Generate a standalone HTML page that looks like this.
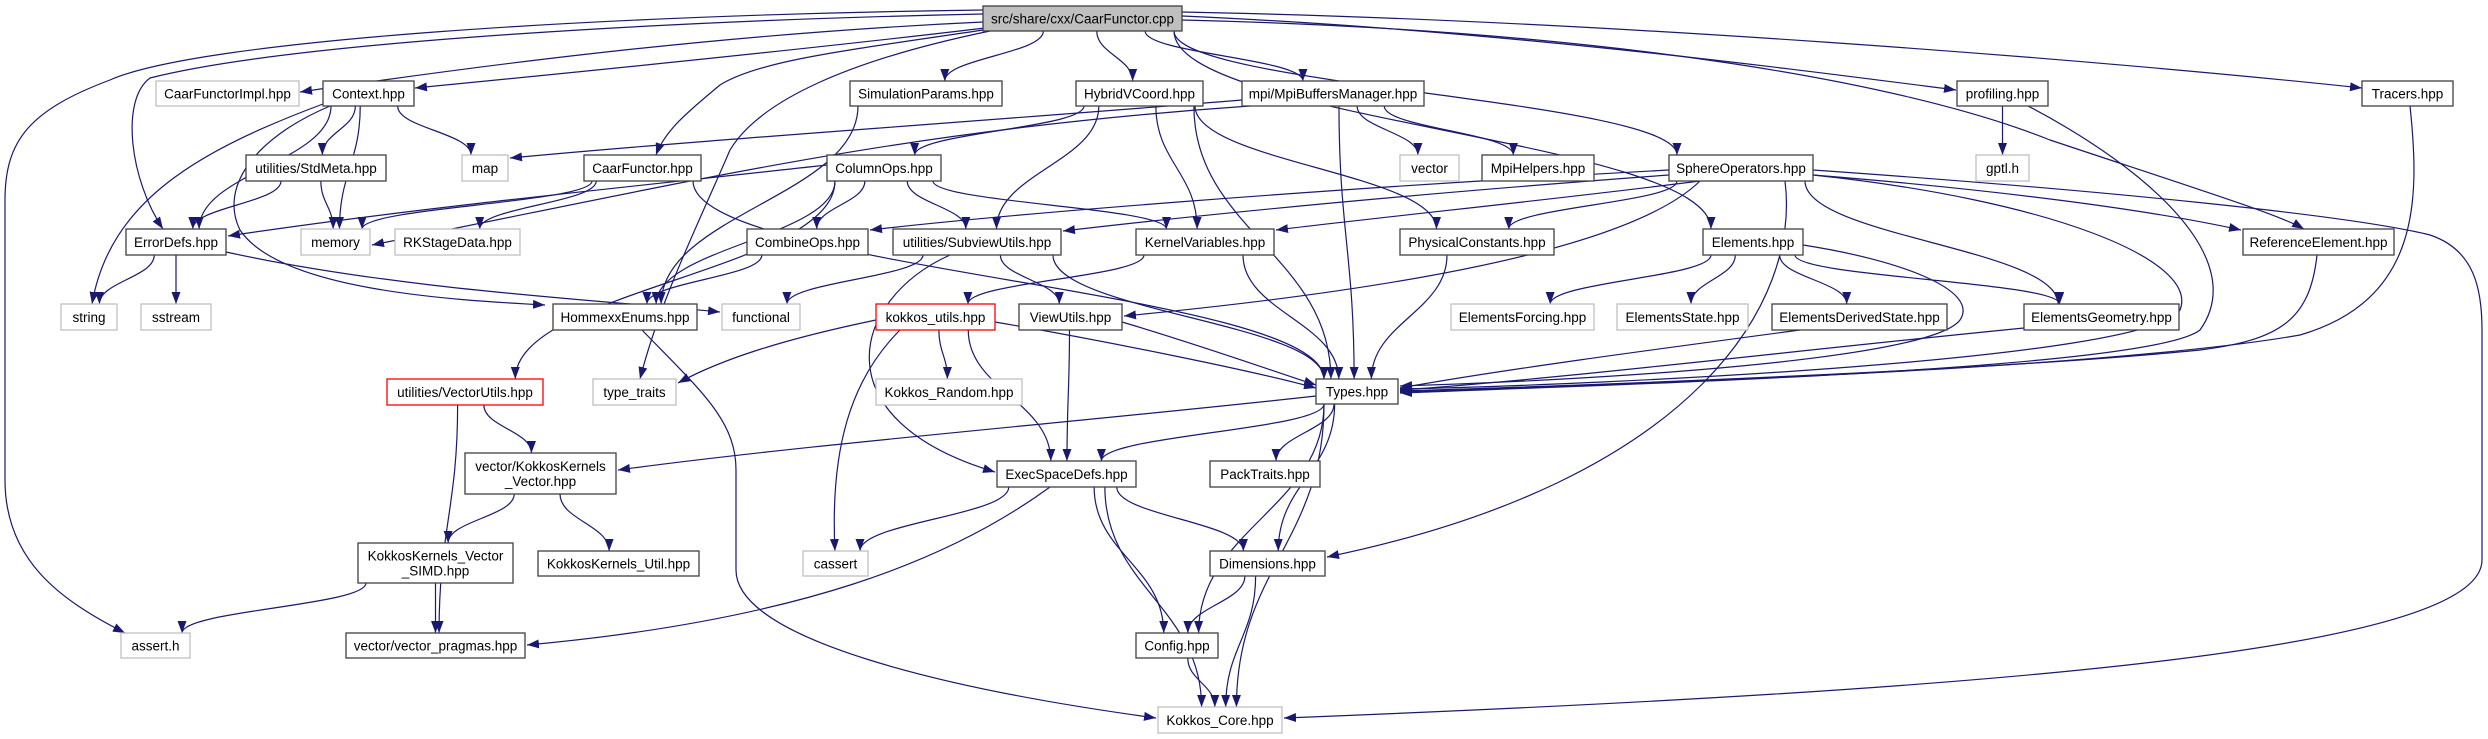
<!DOCTYPE html>
<html><head><meta charset="utf-8"><style>
html,body{margin:0;padding:0;background:#fff;width:2488px;height:739px;overflow:hidden}
svg{display:block}
text{font-family:"Liberation Sans",sans-serif;font-size:13.5px;fill:#000}
</style></head><body>
<svg id="g" width="2488" height="739" viewBox="0 0 2488 739" xmlns="http://www.w3.org/2000/svg">
<defs><marker id="a" markerUnits="userSpaceOnUse" markerWidth="12" markerHeight="9" refX="12" refY="4.5" orient="auto"><path d="M0,0L12,4.5L0,9z" fill="#191970"/></marker></defs>
<g id="edges" fill="none" stroke="#191970" stroke-width="1.2"></g>
<g id="nodes"></g>
</svg>
<script>
var N={
root:[983,6,1182,31,"src/share/cxx/CaarFunctor.cpp","k",1],
cfi:[156,81,299,106,"CaarFunctorImpl.hpp","g"],
ctx:[323,81,414,106,"Context.hpp","k"],
sim:[850,81,1002,106,"SimulationParams.hpp","k"],
hyb:[1076,81,1203,106,"HybridVCoord.hpp","k"],
mpi:[1242,81,1424,106,"mpi/MpiBuffersManager.hpp","k"],
prof:[1957,81,2048,106,"profiling.hpp","k"],
trac:[2362,81,2453,106,"Tracers.hpp","k"],
std:[246,155,386,181,"utilities/StdMeta.hpp","k"],
map:[462,155,508,181,"map","g"],
caf:[584,155,701,181,"CaarFunctor.hpp","k"],
col:[827,155,941,181,"ColumnOps.hpp","k"],
vec:[1400,155,1459,181,"vector","g"],
mph:[1482,155,1594,181,"MpiHelpers.hpp","k"],
sph:[1669,155,1813,181,"SphereOperators.hpp","k"],
gptl:[1976,155,2029,181,"gptl.h","g"],
err:[126,229,226,255,"ErrorDefs.hpp","k"],
mem:[301,229,370,255,"memory","g"],
rks:[395,229,520,255,"RKStageData.hpp","g"],
cmb:[747,229,868,255,"CombineOps.hpp","k"],
sub:[893,229,1061,255,"utilities/SubviewUtils.hpp","k"],
kv:[1136,229,1274,255,"KernelVariables.hpp","k"],
phc:[1400,229,1554,255,"PhysicalConstants.hpp","k"],
ele:[1703,229,1803,255,"Elements.hpp","k"],
ref:[2243,229,2394,255,"ReferenceElement.hpp","k"],
str:[61,304,117,330,"string","g"],
ss:[141,304,211,330,"sstream","g"],
hom:[553,304,697,330,"HommexxEnums.hpp","k"],
fun:[722,304,800,330,"functional","g"],
ku:[876,304,995,330,"kokkos_utils.hpp","r"],
vu:[1019,304,1122,330,"ViewUtils.hpp","k"],
ef:[1451,304,1594,330,"ElementsForcing.hpp","g"],
es:[1617,304,1748,330,"ElementsState.hpp","g"],
eds:[1772,304,1947,330,"ElementsDerivedState.hpp","k"],
eg:[2024,304,2179,330,"ElementsGeometry.hpp","k"],
vut:[387,379,543,405,"utilities/VectorUtils.hpp","r"],
tt:[593,379,676,405,"type_traits","g"],
kr:[876,379,1022,405,"Kokkos_Random.hpp","g"],
typ:[1316,379,1398,404,"Types.hpp","k"],
kkv:[465,453,616,494,"vector/KokkosKernels|_Vector.hpp","k"],
esd:[997,461,1136,487,"ExecSpaceDefs.hpp","k"],
pt:[1210,461,1320,487,"PackTraits.hpp","k"],
kks:[358,543,513,583,"KokkosKernels_Vector|_SIMD.hpp","k"],
kku:[538,551,699,576,"KokkosKernels_Util.hpp","k"],
cas:[803,551,868,576,"cassert","g"],
dim:[1210,551,1325,576,"Dimensions.hpp","k"],
ash:[121,633,190,658,"assert.h","g"],
vp:[346,633,525,658,"vector/vector_pragmas.hpp","k"],
cfg:[1136,633,1218,658,"Config.hpp","k"],
kc:[1158,707,1282,733,"Kokkos_Core.hpp","g"]
};
var ns="http://www.w3.org/2000/svg";
var E=document.getElementById("edges"),G=document.getElementById("nodes");
function P(d){var p=document.createElementNS(ns,"path");p.setAttribute("d",d);p.setAttribute("marker-end","url(#a)");E.appendChild(p);}
function cl(v,a,b){return Math.max(a,Math.min(b,v));}
function e(s,t){var S=N[s],T=N[t];var scx=(S[0]+S[2])/2,tcx=(T[0]+T[2])/2;
var sx=cl(scx+(tcx-scx)*0.25,S[0]+8,S[2]-8),sy=S[3];
var tx=cl(tcx+(scx-tcx)*0.12,T[0]+8,T[2]-8),ty=T[1];var dy=ty-sy;
P("M"+sx+","+sy+" C"+sx+","+(sy+dy*0.45)+" "+tx+","+(ty-dy*0.45)+" "+tx+","+ty);}
var D=[["root","sim"],["root","hyb"],["root","mpi"],["root","ele"],["root","sph"],
["ctx","err"],["ctx","map"],["ctx","mem"],["ctx","std"],["std","err"],["std","mem"],
["err","str"],["err","ss"],["caf","mem"],["caf","rks"],["mpi","vec"],["mpi","mph"],["mpi","typ"],
["sim","hom"],["hyb","col"],["hyb","sub"],["hyb","kv"],["hyb","typ"],["hyb","phc"],
["col","hom"],["col","cmb"],["col","sub"],["col","kv"],["col","vut"],["cmb","hom"],
["sub","fun"],["sub","vu"],["kv","ku"],["kv","typ"],["phc","typ"],["ku","kr"],["ku","esd"],
["vu","esd"],["vut","kkv"],["vut","vp"],["kkv","kks"],["kkv","kku"],["kks","ash"],["kks","vp"],
["typ","esd"],["typ","pt"],["typ","dim"],["typ","cfg"],["typ","kc"],
["esd","cas"],["esd","kc"],["esd","cfg"],["esd","dim"],["dim","cfg"],["dim","kc"],["cfg","kc"],
["sph","phc"],["sph","eg"],["ele","ef"],["ele","es"],["ele","eds"],["ele","eg"],["prof","gptl"],
["sub","typ"],["caf","typ"]];
D.forEach(function(x){e(x[0],x[1]);});
[
"M983,22 C700,35 450,70 300,92",
"M985,28 C800,50 600,70 415,88",
"M983,14 C700,20 300,40 150,78 C120,100 130,180 163,229",
"M983,10 C600,15 200,40 110,80 C30,110 5,140 5,200 L5,480 C5,560 60,600 125,633",
"M983,30 C850,50 760,60 720,85 C690,110 665,130 656,155",
"M990,31 C850,60 760,100 730,150 C700,220 660,300 640,379",
"M1182,16 C1500,30 1800,70 1956,90",
"M1182,20 C1600,30 1900,80 2050,140 C2200,190 2280,215 2304,229",
"M1182,12 C1600,20 2100,60 2362,88",
"M1813,170 C2100,190 2350,215 2430,235 C2475,250 2482,290 2482,330 L2482,560 C2482,650 2000,690 1284,718",
"M1800,330 C1650,350 1500,370 1400,388",
"M2024,328 C1800,350 1550,380 1400,390",
"M2317,255 C2310,320 2280,340 2200,350 C2000,370 1600,385 1400,391",
"M2410,106 C2420,200 2420,300 2300,335 C2100,370 1600,385 1400,392",
"M2028,106 C2150,170 2250,260 2200,330 C2150,370 1600,385 1400,393",
"M1813,175 C2050,200 2200,260 2180,310 C2150,360 1600,385 1400,389",
"M1803,245 C1900,260 1980,290 1960,320 C1930,360 1600,380 1400,386",
"M1316,396 C1100,420 800,445 618,470",
"M1050,487 C950,560 800,620 527,645",
"M950,255 C850,300 820,420 995,472",
"M642,330 C700,390 736,420 736,470 L736,570 C736,640 950,690 1156,718",
"M1785,181 C1800,300 1700,480 1327,557",
"M330,106 C250,140 220,190 240,230 C280,290 450,300 545,305",
"M323,104 C200,150 110,200 92,304",
"M226,252 C400,290 600,300 720,312",
"M827,165 C600,190 400,210 228,236",
"M1250,106 C900,130 700,180 372,245",
"M1242,100 C1000,120 700,140 510,158",
"M1669,170 C1300,190 1000,215 870,230",
"M1669,175 C1400,195 1200,215 1063,231",
"M1700,181 C1550,200 1400,215 1276,230",
"M1700,181 C1650,230 1500,280 1124,316",
"M1813,175 C2000,190 2150,210 2241,230",
"M876,320 C780,340 720,360 678,383",
"M900,330 C850,380 830,450 835,551",
"M995,322 C1100,340 1250,370 1316,388",
"M1122,322 C1200,345 1270,370 1316,385"
].forEach(P);
for(var k in N){var n=N[k];var r=document.createElementNS(ns,"rect");
r.setAttribute("x",n[0]);r.setAttribute("y",n[1]);r.setAttribute("width",n[2]-n[0]);r.setAttribute("height",n[3]-n[1]);
r.setAttribute("fill",n[6]?"#bfbfbf":"#fff");r.setAttribute("stroke",n[5]=="g"?"#bfbfbf":n[5]=="r"?"#ff0000":"#404040");r.setAttribute("stroke-width","1.3");G.appendChild(r);
var ls=n[4].split("|"),cx=(n[0]+n[2])/2,cy=(n[1]+n[3])/2;
ls.forEach(function(l,i){var t=document.createElementNS(ns,"text");t.setAttribute("x",cx);
t.setAttribute("y",cy+5+(i-(ls.length-1)/2)*15);t.setAttribute("text-anchor","middle");t.textContent=l;G.appendChild(t);});}
</script>
</body></html>
